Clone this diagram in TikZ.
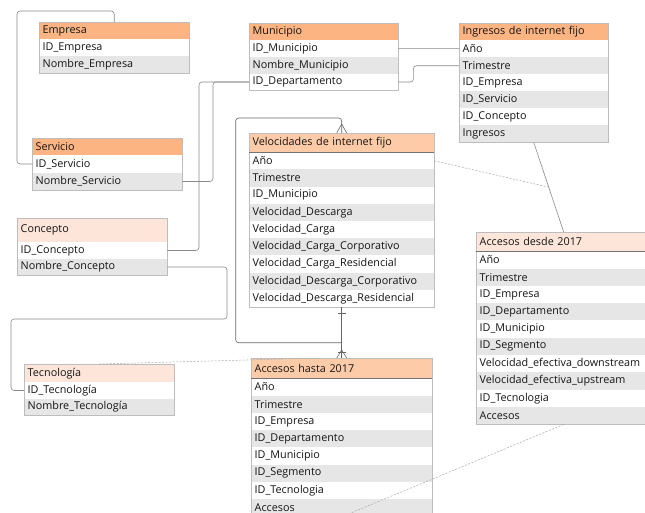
\documentclass[tikz,border=0pt]{standalone}
\usepackage{fontspec}
\setmainfont{Open Sans}
\usetikzlibrary{calc}
\definecolor{hdrA}{HTML}{FBB482}
\definecolor{hdrB}{HTML}{FDCBA7}
\definecolor{hdrC}{HTML}{FDE6D9}
\definecolor{rowG}{HTML}{E6E6E6}
\definecolor{bord}{HTML}{BDBDBD}
\definecolor{conn}{HTML}{8A8A8A}
\definecolor{dconn}{HTML}{A8A8A8}
\tikzset{
  cell/.style={rectangle, inner xsep=3.5pt, inner ysep=0pt, align=left,
    font=\fontsize{10.8}{12}\selectfont, text=black!92, anchor=north west},
  boxline/.style={draw=bord, line width=0.6pt},
  hdrline/.style={draw=black!55, line width=0.6pt},
  conn/.style={draw=conn, line width=0.6pt, rounded corners=3pt},
  dconn/.style={draw=dconn, line width=0.5pt, dash pattern=on 2pt off 1.5pt},
  foot/.style={draw=black!60, line width=0.6pt}
}
% #1 name, #2 x, #3 y, #4 width, #5 header height, #6 row height, #7 colour, #8 header, #9 rows
\newcommand\erdtable[9]{%
  \pgfmathsetmacro\erdtw{#4-7}%
  \node[cell, fill=#7, text width=\erdtw pt, minimum height=#5pt] (#1) at (#2,#3) {#8};
  \foreach \t [count=\i] in {#9} {
    \pgfmathsetmacro\erdyy{#3+#5+(\i-1)*#6}
    \ifodd\i\def\erdrc{white}\else\def\erdrc{rowG}\fi
    \node[cell, fill=\erdrc, text width=\erdtw pt, minimum height=#6pt] (#1-\i) at (#2,\erdyy) {\t};
    \xdef\erdlast{\i}
  }
  \draw[boxline] (#1.north west) rectangle (#1-\erdlast.south east);
}
\begin{document}
\begin{tikzpicture}[x=1pt,y=-1pt]
\useasboundingbox (0,0) rectangle (645,512);
\clip (0,0) rectangle (645,512);
\fill[white] (0,0) rectangle (645,512);

\erdtable{emp}{39}{22}{150}{17}{17}{hdrA}{Empresa}{ID\_Empresa,Nombre\_Empresa}
\erdtable{ser}{32}{138}{150}{17}{17.5}{hdrA}{Servicio}{ID\_Servicio,Nombre\_Servicio}
\erdtable{con}{17}{218}{150}{24}{16.5}{hdrC}{Concepto}{ID\_Concepto,Nombre\_Concepto}
\erdtable{tec}{24}{364}{150}{18}{16.5}{hdrC}{Tecnología}{ID\_Tecnología,Nombre\_Tecnología}
\erdtable{mun}{249}{23}{149}{17}{16.7}{hdrA}{Municipio}{ID\_Municipio,Nombre\_Municipio,ID\_Departamento}
\erdtable{ing}{459}{23}{149}{17}{17}{hdrA}{Ingresos de internet fijo}{Año,Trimestre,ID\_Empresa,ID\_Servicio,ID\_Concepto,Ingresos}
\erdtable{vel}{249}{133}{185}{19}{17.2}{hdrB}{Velocidades de internet fijo}{Año,Trimestre,ID\_Municipio,Velocidad\_Descarga,Velocidad\_Carga,Velocidad\_Carga\_Corporativo,Velocidad\_Carga\_Residencial,Velocidad\_Descarga\_Corporativo,Velocidad\_Descarga\_Residencial}
\erdtable{ah}{251}{358}{181}{20}{17.3}{hdrB}{Accesos hasta 2017}{Año,Trimestre,ID\_Empresa,ID\_Departamento,ID\_Municipio,ID\_Segmento,ID\_Tecnologia,Accesos}
\erdtable{acd}{476}{232}{175}{19}{17.3}{hdrC}{Accesos desde 2017}{Año,Trimestre,ID\_Empresa,ID\_Departamento,ID\_Municipio,ID\_Segmento,Velocidad\_efectiva\_downstream,Velocidad\_efectiva\_upstream,ID\_Tecnologia,Accesos}

\draw[hdrline] (vel.south west) -- (vel.south east);
\draw[hdrline] (ah.south west) -- (ah.south east);
\draw[hdrline] (acd.south west) -- (acd.south east);

% connectors
\coordinate (cTop) at (17,11);
\draw[conn] (emp.north) |- (cTop) |- (ser-1.west);
\draw[conn] (ser-2.east) -| ([xshift=-36pt]mun-3.west) -- (mun-3.west);
\draw[conn] (con-1.east) -| ([xshift=-50pt]mun-3.west) -- (mun-3.west);
\coordinate (cMid) at (227,319);
\draw[conn] (con-2.east) -| (cMid) -| ([xshift=-13pt]tec-1.west) -- (tec-1.west);
\draw[conn] (mun-1.east) -- (ing-1.west);
\draw[conn] (mun-3.east) -- ++(15,0) |- (ing-2.west);
\draw[conn] (ing-6.south) -- (acd.north);
\coordinate (pD) at ($(ing-6.south)!0.5!(acd.north)$);
\draw[dconn] (vel-1.east) -- (pD);

\draw[foot] (vel-9.south) -- (ah.north);
\coordinate (pL) at ($(vel-9.south)!0.7!(ah.north)$);
\draw[conn, draw=black!60] (pL) -- ++(-106,0) |- ([yshift=15pt]vel.north) -- (vel.north);
% crow's feet and bars
\draw[foot] ([xshift=-5pt]vel.north) -- ([yshift=9pt]vel.north) -- ([xshift=5pt]vel.north);
\draw[foot] ([xshift=-5pt]ah.north) -- ([yshift=8pt]ah.north) -- ([xshift=5pt]ah.north);
\draw[foot] ([xshift=-4pt,yshift=6pt]ah.north) -- ([xshift=4pt,yshift=6pt]ah.north);
\draw[foot] ([xshift=-4pt,yshift=-6pt]vel-9.south) -- ([xshift=4pt,yshift=-6pt]vel-9.south);

\coordinate (pT) at ([xshift=-21pt]ah.north);
\draw[dconn] (tec.north) -- (pT);
\draw[dconn] (acd-10.south) -- (ah-8.south);
\end{tikzpicture}
\end{document}
